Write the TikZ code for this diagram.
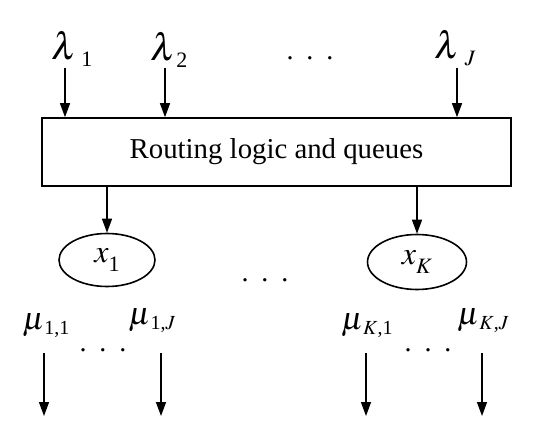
\documentclass[tikz,border=0pt]{standalone}
\usepackage{mathptmx}
\usepackage{fontspec}
\setmainfont{Liberation Serif}
\usetikzlibrary{arrows.meta,positioning,shapes.geometric}

% symbol with a lowered subscript: #1 symbol, #2 subscript
\newcommand{\arrsym}[2]{{\fontsize{19}{19}\selectfont$#1$}\raisebox{-3.5pt}{\fontsize{11}{11}\selectfont #2}}
\newcommand{\srvsym}[1]{{\fontsize{16}{16}\selectfont$x$}\raisebox{-4.5pt}{\fontsize{11}{11}\selectfont #1}}
\newcommand{\ratesym}[1]{{\fontsize{16}{16}\selectfont$\mu$}\raisebox{-2.5pt}{\fontsize{10}{10}\selectfont #1}}

\tikzset{
    logicbox/.style={draw, line width=0.8pt, inner sep=0pt,
        minimum width=234.5pt, minimum height=34pt,
        font=\fontsize{14.4}{16}\selectfont},
    server/.style={draw, ellipse, line width=0.8pt, inner sep=0pt,
        minimum width=48pt, minimum height=26.5pt},
    flow/.style={-{Triangle[length=7pt,width=5pt]}, line width=0.7pt},
    symlabel/.style={inner sep=0pt},
    dots/.style={inner sep=0pt, font=\fontsize{14}{14}\selectfont},
}

\begin{document}
\begin{tikzpicture}[x=0.5pt,y=-0.5pt]
    \useasboundingbox (0,0) rectangle (550,427);

    % --- routing box ---
    \node[logicbox] (logic) at (276.5,152) {Routing logic and queues};

    % --- arrivals ---
    \node[symlabel] (lam1) at (72,49) {\arrsym{\lambda}{\hspace{2pt}1}};
    \node[symlabel] (lam2) at (169,50) {\arrsym{\lambda}{2}};
    \node[dots] (topdots) at (310,58) {.\hspace{6.5pt}.\hspace{6.5pt}.};
    \node[symlabel] (lamJ) at (455,48) {\arrsym{\lambda}{\hspace{2.5pt}$J$}};

    \coordinate (in1) at (65,68);
    \coordinate (in2) at (165,68);
    \coordinate (inJ) at (457,68);
    \draw[flow] (in1) -- (in1 |- logic.north);
    \draw[flow] (in2) -- (in2 |- logic.north);
    \draw[flow] (inJ) -- (inJ |- logic.north);

    % --- servers ---
    \node[server] (srv1) at (107,260) {\srvsym{1}};
    \node[server, minimum width=49.5pt, minimum height=27.5pt] (srvK) at (417,262) {\srvsym{$K$}};
    \node[dots] (middots) at (265,280) {.\hspace{6.5pt}.\hspace{6.5pt}.};

    \draw[flow] (logic.south -| srv1.north) -- (srv1.north);
    \draw[flow] (logic.south -| srvK.north) -- (srvK.north);

    % --- service rates ---
    \node[symlabel] (mu11) at (46,326) {\ratesym{1,1}};
    \node[symlabel] (mu1J) at (152,321) {\ratesym{1,$J$}};
    \node[symlabel] (muK1) at (367,326) {\ratesym{$K$,1}};
    \node[symlabel] (muKJ) at (483,321) {\ratesym{$K$,$J$}};
    \node[dots] (dots1) at (103,350) {.\hspace{6.5pt}.\hspace{6.5pt}.};
    \node[dots] (dotsK) at (428,350) {.\hspace{6.5pt}.\hspace{6.5pt}.};

    % --- departures ---
    \foreach \x/\n in {44/a, 161/b, 366/c, 482/d} {
        \coordinate (dep\n) at (\x,353);
        \coordinate (out\n) at (\x,416);
        \draw[flow] (dep\n) -- (out\n);
    }

\end{tikzpicture}
\end{document}
